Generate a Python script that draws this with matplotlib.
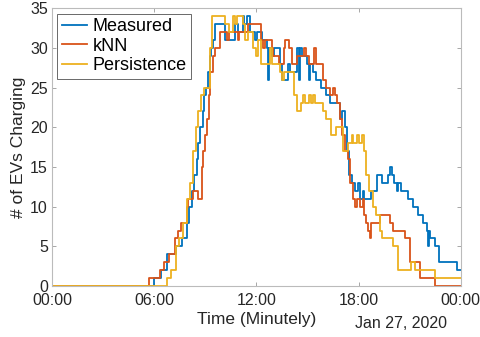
import matplotlib
matplotlib.use("Agg")
import matplotlib.pyplot as plt
import numpy as np

plt.rcParams['font.family'] = ['Liberation Sans', 'DejaVu Sans']

# hours since midnight where each step starts, and the count from there
meas_t = [0, 6.0, 6.38, 6.73, 7.31, 7.61, 7.9, 8.04, 8.2, 8.35, 8.49, 8.6, 8.72,
          8.85, 8.95, 9.05, 9.15, 9.25, 9.35, 9.45, 9.55, 10.15, 10.75, 10.9, 11.2,
          11.3, 11.45, 11.6, 11.9, 12.05, 12.35, 12.6, 12.7, 12.75, 12.9, 13.05, 13.4,
          13.5, 13.85, 14.0, 14.4, 14.5, 14.55, 14.7, 15.0, 15.1, 15.15, 15.3, 15.5,
          15.8, 16.1, 16.35, 16.6, 16.9, 17.05, 17.2, 17.3, 17.45, 17.6, 17.8, 17.95,
          18.1, 18.25, 18.3, 18.5, 18.75, 19.1, 19.35, 19.7, 19.85, 19.95, 20.05,
          20.25, 20.3, 20.5, 20.9, 21.2, 21.5, 21.8, 22.0, 22.1, 22.15, 22.2, 22.5,
          22.7, 23.8]
meas_v = [0, 1, 2, 4, 5, 6, 8, 10, 12, 14, 16, 18, 20,
          22, 24, 25, 27, 29, 30, 31, 33, 31, 33, 32, 34,
          33, 34, 32, 31, 32, 31, 30, 26, 30, 29, 30, 28,
          26, 28, 27, 30, 26, 30, 29, 28, 26, 28, 27, 26,
          25, 24, 23, 23, 21, 22, 20, 17, 14, 13, 12, 13,
          11, 12, 11, 11, 12, 14, 13, 14, 15, 14, 13,
          12, 13, 12, 11, 10, 9, 8, 7, 5, 7, 6, 5,
          3, 2]

knn_t = [0, 5.69, 6.34, 6.6, 6.9, 7.2, 7.4, 7.6, 7.9, 8.0, 8.3, 8.6, 8.8, 8.88,
         9.0, 9.1, 9.2, 9.3, 9.45, 9.6, 9.85, 10.3, 10.4, 10.9, 11.0, 11.5,
         12.3, 12.4, 12.5, 12.9, 13.0, 13.3, 13.6, 13.7, 13.9, 14.1, 14.4, 14.8,
         14.9, 15.1, 15.4, 15.5, 15.9, 16.1, 16.3, 16.5, 16.6, 16.75, 16.9, 17.05,
         17.2, 17.35, 17.5, 17.7, 17.8, 17.9, 18.1, 18.25, 18.3, 18.45, 18.55, 18.65,
         18.75, 19.25, 19.85, 20.0, 20.7, 21.0, 21.6, 22.5]
knn_v = [0, 1, 2, 3, 4, 6, 7, 8, 10, 11, 12, 11, 15, 17,
         19, 21, 24, 27, 29, 30, 32, 31, 32, 31, 32, 33,
         31, 30, 31, 30, 29, 28, 30, 31, 30, 28, 29, 30,
         29, 28, 30, 28, 26, 25, 24, 25, 24, 23, 21, 19,
         17, 16, 13, 11, 10, 11, 10, 11, 9, 8, 7, 6,
         8, 9, 8, 7, 6, 3, 1, 0]

pers_t = [0, 6.75, 7.0, 7.3, 7.45, 7.7, 7.9, 8.1, 8.3, 8.45, 8.6, 8.75, 8.9,
          9.3, 9.4, 10.15, 10.4, 10.6, 10.75, 10.85, 11.2, 11.35, 11.5, 11.8, 12.0,
          12.1, 12.3, 12.8, 12.9, 13.4, 13.5, 13.6, 14.2, 14.4, 14.6, 14.75, 14.85,
          15.1, 15.2, 15.35, 15.45, 15.9, 16.1, 16.4, 16.7, 17.1, 17.4, 17.6, 17.7,
          17.9, 18.0, 18.2, 18.3, 18.45, 18.6, 18.85, 19.05, 19.25, 19.4, 20.0, 20.3,
          21.1, 21.3, 22.5]
pers_v = [0, 1, 2, 5, 6, 8, 11, 13, 17, 20, 22, 24, 25,
          30, 34, 33, 32, 34, 33, 34, 33, 31, 32, 30, 29,
          31, 28, 30, 28, 27, 26, 27, 24, 22, 23, 24, 23,
          24, 23, 24, 23, 22, 21, 19, 20, 17, 18, 19, 18,
          19, 18, 19, 17, 14, 12, 10, 9, 7, 6, 5, 2,
          3, 2, 1]

tick_hours = [0, 6, 12, 18, 24]
tick_labels = ['00:00', '06:00', '12:00', '18:00', '00:00']

fig = plt.figure(figsize=(4.81, 3.37), dpi=100)
ax = fig.add_axes([0.108, 0.151, 0.85, 0.825])

series = [(meas_t, meas_v, '#0072BD', 'Measured'),
          (knn_t, knn_v, '#D95319', 'kNN'),
          (pers_t, pers_v, '#EDB120', 'Persistence')]
for t, v, c, name in series:
    tt = np.append(t, 24)
    vv = np.append(v, v[-1])
    ax.step(tt, vv, where='post', color=c, lw=1.3, label=name)

ax.set_xlim(0, 24)
ax.set_ylim(0, 35)
ax.set_xticks(tick_hours)
ax.set_xticklabels(tick_labels)
ax.set_yticks(range(0, 36, 5))
ax.tick_params(direction='in', length=3, width=0.6, color='#999999',
               labelsize=11.5, labelcolor='#262626', top=True, right=True, pad=3)
ax.tick_params(axis='x', pad=5)
for s in ax.spines.values():
    s.set_color('#bbbbbb')
    s.set_linewidth(0.8)

ax.set_xlabel('Time (Minutely)', fontsize=12.5, color='#262626', labelpad=3)
ax.set_ylabel('# of EVs Charging', fontsize=12.5, color='#262626', labelpad=3)
fig.text(447 / 481, 1 - 323 / 337, 'Jan 27, 2020', ha='right', va='center',
         fontsize=11.5, color='#262626')

leg = ax.legend(loc='upper left', fontsize=13, frameon=True, fancybox=False,
                borderaxespad=0.3, borderpad=0.25, labelspacing=0.15,
                handlelength=1.4, handletextpad=0.3)
leg.get_frame().set_edgecolor('#262626')
leg.get_frame().set_linewidth(0.6)

fig.savefig('out.png', dpi=100)
